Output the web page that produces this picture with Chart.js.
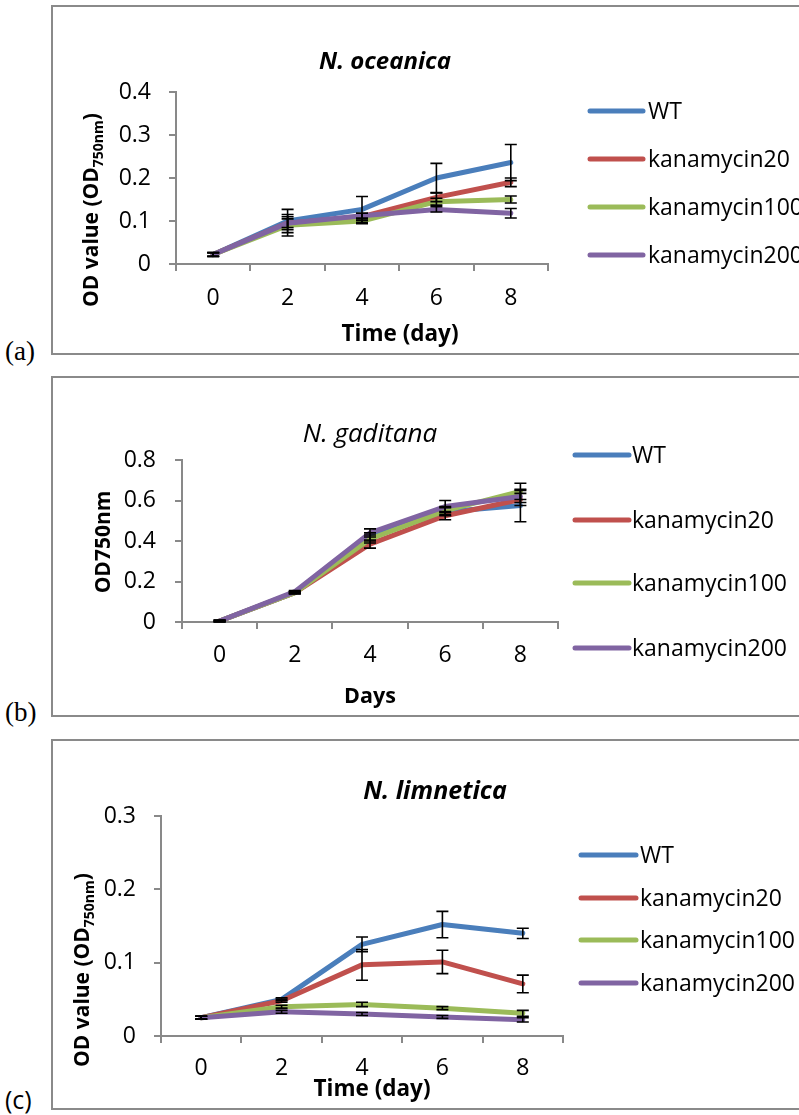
<!DOCTYPE html>
<html lang="en">
<head>
  <meta charset="UTF-8">
  <title>OD750 growth curves</title>
  <style>
    body { margin: 0; background: #fff; }
    #page { position: relative; width: 799px; height: 1115px; overflow: hidden; }
    .frame {
      position: absolute;
      left: 51px;
      width: 800px;
      border: 2px solid #8a8a8a;
      border-right: none;
      box-sizing: border-box;
    }
    .tag { position: absolute; left: 5px; line-height: 1; font-size: 27px; color: #000; }
    canvas { position: absolute; left: 0; }
  </style>
</head>
<body>
  <div id="page">
    <div class="frame" style="top:5px;height:350px"></div>
    <div class="frame" style="top:376px;height:341px"></div>
    <div class="frame" style="top:739px;height:371px"></div>
    <div class="tag" style="top:338px;font-family:'Liberation Serif'">(a)</div>
    <div class="tag" style="top:699px;font-family:'Liberation Serif'">(b)</div>
    <div class="tag" style="top:1087px;font-family:'Open Sans';font-size:25px">(c)</div>
    <canvas id="chartA" width="799" height="360" style="top:0"></canvas>
    <canvas id="chartB" width="799" height="350" style="top:370px"></canvas>
    <canvas id="chartC" width="799" height="385" style="top:730px"></canvas>
  </div>
  <script src="https://cdn.jsdelivr.net/npm/chart.js"></script>
  <script>
    const days = ['0', '2', '4', '6', '8'];
    const seriesNames = ['WT', 'kanamycin20', 'kanamycin100', 'kanamycin200'];
    const seriesColors = ['#4a7ebb', '#c0504d', '#9bbb59', '#8064a2'];

    // (a) N. oceanica
    const oceanicaWT = [0.022, 0.100, 0.127, 0.200, 0.236];
    const oceanicaK20 = [0.022, 0.095, 0.110, 0.155, 0.190];
    const oceanicaK100 = [0.022, 0.090, 0.100, 0.145, 0.150];
    const oceanicaK200 = [0.022, 0.095, 0.112, 0.127, 0.118];
    const oceanicaErrWT = [0.005, 0.027, 0.030, 0.034, 0.042];
    const oceanicaErrK20 = [0.004, 0.015, 0.008, 0.010, 0.010];
    const oceanicaErrK100 = [0.004, 0.025, 0.006, 0.008, 0.008];
    const oceanicaErrK200 = [0.004, 0.010, 0.006, 0.006, 0.011];

    // (b) N. gaditana
    const gaditanaWT = [0.005, 0.145, 0.420, 0.545, 0.575];
    const gaditanaK20 = [0.005, 0.145, 0.385, 0.525, 0.605];
    const gaditanaK100 = [0.005, 0.145, 0.410, 0.550, 0.645];
    const gaditanaK200 = [0.005, 0.150, 0.440, 0.570, 0.620];
    const gaditanaErrWT = [0.003, 0.005, 0.020, 0.020, 0.080];
    const gaditanaErrK20 = [0.003, 0.005, 0.020, 0.020, 0.030];
    const gaditanaErrK100 = [0.003, 0.005, 0.020, 0.020, 0.040];
    const gaditanaErrK200 = [0.003, 0.005, 0.020, 0.030, 0.030];

    // (c) N. limnetica
    const limneticaWT = [0.025, 0.050, 0.125, 0.152, 0.140];
    const limneticaK20 = [0.025, 0.048, 0.097, 0.101, 0.071];
    const limneticaK100 = [0.025, 0.040, 0.043, 0.038, 0.031];
    const limneticaK200 = [0.025, 0.033, 0.030, 0.026, 0.022];
    const limneticaErrWT = [0.002, 0.002, 0.010, 0.018, 0.007];
    const limneticaErrK20 = [0.002, 0.002, 0.021, 0.016, 0.012];
    const limneticaErrK100 = [0.002, 0.002, 0.003, 0.002, 0.004];
    const limneticaErrK200 = [0.002, 0.002, 0.002, 0.002, 0.003];

    const axisGray = '#898989';
    const baseFont = "'Open Sans', sans-serif";

    const errorBars = {
      id: 'errorBars',
      afterDatasetsDraw(chart) {
        const { ctx, scales: { x, y } } = chart;
        ctx.save();
        ctx.strokeStyle = '#000';
        ctx.lineWidth = 1.6;
        chart.data.datasets.forEach(ds => {
          ds.errors.forEach((e, j) => {
            const px = x.getPixelForValue(j);
            const top = y.getPixelForValue(ds.data[j] + e);
            const bot = y.getPixelForValue(ds.data[j] - e);
            ctx.beginPath();
            ctx.moveTo(px, top); ctx.lineTo(px, bot);
            ctx.moveTo(px - 6, top); ctx.lineTo(px + 6, top);
            ctx.moveTo(px - 6, bot); ctx.lineTo(px + 6, bot);
            ctx.stroke();
          });
        });
        ctx.restore();
      }
    };

    const panelText = {
      id: 'panelText',
      afterDraw(chart, args, o) {
        const ctx = chart.ctx;
        ctx.save();
        ctx.fillStyle = '#000';
        ctx.textAlign = 'center';
        ctx.textBaseline = 'middle';
        ctx.font = o.titleFont;
        ctx.fillText(o.title, o.titleX, o.titleY);
        ctx.font = o.xTitleFont;
        ctx.fillText(o.xTitle, o.xTitleX, o.xTitleY);

        // rotated y title, may carry a subscript part
        ctx.save();
        ctx.translate(o.yTitleX, o.yTitleY);
        ctx.rotate(-Math.PI / 2);
        ctx.textAlign = 'left';
        ctx.textBaseline = 'alphabetic';
        let total = 0;
        o.yTitle.forEach(p => {
          ctx.font = 'bold ' + p.size + 'px ' + baseFont;
          total += ctx.measureText(p.text).width;
        });
        let cx = -total / 2;
        o.yTitle.forEach(p => {
          ctx.font = 'bold ' + p.size + 'px ' + baseFont;
          ctx.fillText(p.text, cx, 8 + (p.sub ? 5 : 0));
          cx += ctx.measureText(p.text).width;
        });
        ctx.restore();

        // legend
        ctx.font = '23px ' + baseFont;
        ctx.textAlign = 'left';
        ctx.textBaseline = 'middle';
        ctx.lineCap = 'round';
        ctx.lineWidth = 5;
        chart.data.datasets.forEach((ds, i) => {
          const ly = o.legendRows[i];
          ctx.strokeStyle = ds.borderColor;
          ctx.beginPath();
          ctx.moveTo(o.legendX0, ly);
          ctx.lineTo(o.legendX1, ly);
          ctx.stroke();
          ctx.fillText(ds.label, o.legendTextX, ly + 1);
        });
        ctx.restore();
      }
    };

    function buildChart(id, values, errors, yMax, yStep, area, text) {
      const canvas = document.getElementById(id);
      const W = canvas.width, H = canvas.height;
      const datasets = values.map((v, i) => ({
        label: seriesNames[i],
        data: v,
        errors: errors[i],
        borderColor: seriesColors[i],
        backgroundColor: seriesColors[i],
        borderWidth: 5,
        borderCapStyle: 'round',
        borderJoinStyle: 'round',
        pointRadius: 0,
        tension: 0,
        order: values.length - i
      }));
      return new Chart(canvas.getContext('2d'), {
        type: 'line',
        data: { labels: days, datasets },
        options: {
          responsive: false,
          animation: false,
          layout: { padding: { top: area.top, right: W - area.right, left: 0, bottom: 0 } },
          plugins: {
            legend: { display: false },
            tooltip: { enabled: false },
            panelText: text
          },
          scales: {
            x: {
              type: 'category',
              offset: true,
              grid: { offset: true, drawOnChartArea: false, color: axisGray, tickLength: 7, lineWidth: 2 },
              border: { color: axisGray, width: 2 },
              ticks: { color: '#000', font: { family: baseFont, size: 23 }, padding: area.xPad, maxRotation: 0 },
              afterFit: s => { s.height = H - area.bottom; }
            },
            y: {
              min: 0,
              max: yMax,
              grid: { drawOnChartArea: false, color: axisGray, tickLength: 7, lineWidth: 2 },
              border: { color: axisGray, width: 2 },
              ticks: { stepSize: yStep, color: '#000', font: { family: baseFont, size: 23 }, padding: area.yPad },
              afterFit: s => { s.width = area.left; }
            }
          }
        },
        plugins: [errorBars, panelText]
      });
    }

    const odSub = [
      { text: 'OD value (OD', size: 21 },
      { text: '750nm', size: 14, sub: true },
      { text: ')', size: 21 }
    ];

    buildChart('chartA',
      [oceanicaWT, oceanicaK20, oceanicaK100, oceanicaK200],
      [oceanicaErrWT, oceanicaErrK20, oceanicaErrK100, oceanicaErrK200],
      0.4, 0.1,
      { left: 176, right: 548, top: 92, bottom: 264, xPad: 14, yPad: 18 },
      {
        title: 'N. oceanica', titleFont: 'italic bold 24px ' + baseFont, titleX: 385, titleY: 62,
        xTitle: 'Time (day)', xTitleFont: 'bold 22.5px ' + baseFont, xTitleX: 400, xTitleY: 335,
        yTitle: odSub, yTitleX: 90, yTitleY: 210,
        legendX0: 590, legendX1: 643, legendTextX: 648, legendRows: [111, 159, 207, 255]
      });

    buildChart('chartB',
      [gaditanaWT, gaditanaK20, gaditanaK100, gaditanaK200],
      [gaditanaErrWT, gaditanaErrK20, gaditanaErrK100, gaditanaErrK200],
      0.8, 0.2,
      { left: 182, right: 558, top: 90, bottom: 252, xPad: 13, yPad: 19 },
      {
        title: 'N. gaditana', titleFont: 'italic 26px ' + baseFont, titleX: 370, titleY: 65,
        xTitle: 'Days', xTitleFont: 'bold 21.5px ' + baseFont, xTitleX: 370, xTitleY: 327,
        yTitle: [{ text: 'OD750nm', size: 21 }], yTitleX: 102, yTitleY: 172,
        legendX0: 575, legendX1: 629, legendTextX: 632, legendRows: [85, 150, 213, 278]
      });

    buildChart('chartC',
      [limneticaWT, limneticaK20, limneticaK100, limneticaK200],
      [limneticaErrWT, limneticaErrK20, limneticaErrK100, limneticaErrK200],
      0.3, 0.1,
      { left: 161, right: 563, top: 86, bottom: 306, xPad: 12, yPad: 18 },
      {
        title: 'N. limnetica', titleFont: 'italic bold 25px ' + baseFont, titleX: 435, titleY: 62,
        xTitle: 'Time (day)', xTitleFont: 'bold 22.5px ' + baseFont, xTitleX: 372, xTitleY: 360,
        yTitle: odSub, yTitleX: 81, yTitleY: 240,
        legendX0: 581, legendX1: 636, legendTextX: 640, legendRows: [125, 168, 210, 253]
      });
  </script>
</body>
</html>
